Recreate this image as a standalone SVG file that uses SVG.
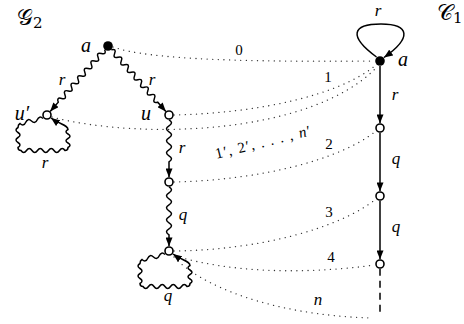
<svg xmlns="http://www.w3.org/2000/svg" width="464" height="324" viewBox="0 0 464 324">
<style>
.e{fill:none;stroke:#000;stroke-width:1.5}
.d{fill:none;stroke:#333;stroke-width:1.3;stroke-dasharray:0.1 5.5;stroke-linecap:round}
.on{fill:#fff;stroke:#000;stroke-width:1.6}
.fn{fill:#000}
.nl{font-family:"Liberation Serif",serif;font-style:italic;font-size:20px;text-anchor:middle}
.el{font-family:"Liberation Serif",serif;font-style:italic;font-size:17px;text-anchor:middle}
.dl{font-family:"Liberation Serif",serif;font-size:15px;text-anchor:middle}
.tt{font-family:"DejaVu Serif","DejaVu Sans",serif;font-size:22px}
</style>
<defs>
<marker id="ar" viewBox="0 0 10 8" refX="10" refY="4" markerWidth="9" markerHeight="7" markerUnits="userSpaceOnUse" orient="auto">
<path d="M0,0 L10,4 L0,8 z" fill="#000"/>
</marker>
<path id="loop" class="e" marker-end="url(#ar)" d="M-4,3.5 q-3.7,-3.3 -5.75,1.25 t-5.75,1.25 t-5.75,1.25 t-5.75,1.25 q-2,1 -2,4 q-4,2.5 0,5 t0,5 t0,5 t0,5 q0,3 3,3 q2.75,4 5.5,0 t5.5,0 t5.5,0 t5.5,0 t5.5,0 t5.5,0 t5.5,0 t5.5,0 q3,0 3,-3 q4,-2.25 0,-4.5 t0,-4.5 t0,-4.5 t0,-4.5 C21,10 13,9.5 4,3"/>
</defs>

<g id="titles">
<text class="tt" x="17" y="25">𝒢<tspan font-size="15" dy="3">2</tspan></text>
<text class="tt" x="437" y="20">𝒞<tspan font-size="15" dy="3">1</tspan></text>
</g>

<g id="connectors">
<!-- dotted correspondences -->
<path class="d" d="M113,47 C150,60 250,62 375,61"/>
<path class="d" d="M174,115 C260,113 340,95 376,65"/>
<path class="d" d="M52,117 C140,140 310,135 376,68"/>
<path class="d" d="M174,182 C260,180 340,160 376,131"/>
<path class="d" d="M174,251 C260,250 340,228 376,199"/>
<path class="d" d="M175,256 C230,272 300,275 375,265"/>
<path class="d" d="M174,257 C200,285 270,315 372,318"/>
<!-- G2 snake edges -->
<path class="e" marker-end="url(#ar)" transform="translate(108,46) rotate(131.5)" d="M5,0 q2.5,-5 5,0 t5,0 t5,0 t5,0 t5,0 t5,0 t5,0 t5,0 t5,0 t5,0 t5,0 t5,0 t5,0 t5,0 L87.3,0"/>
<path class="e" marker-end="url(#ar)" transform="translate(108,46) rotate(48.5)" d="M5,0 q2.5,-5 5,0 t5,0 t5,0 t5,0 t5,0 t5,0 t5,0 t5,0 t5,0 t5,0 t5,0 t5,0 t5,0 t5,0 L87.3,0"/>
<path class="e" marker-end="url(#ar)" transform="translate(169,115) rotate(90)" d="M4.8,0 q3,-5 6,0 t6,0 t6,0 t6,0 t6,0 t6,0 t6,0 L62.2,0"/>
<path class="e" marker-end="url(#ar)" transform="translate(169,182) rotate(90)" d="M4.8,0 q3,-5 6,0 t6,0 t6,0 t6,0 t6,0 t6,0 t6,0 t6,0 L64.2,0"/>
<use href="#loop" transform="translate(47,115)"/>
<use href="#loop" transform="translate(169,251)"/>
<!-- C1 edges -->
<path class="e" marker-end="url(#ar)" d="M376.5,57 C348,36 352,24 381,24 C410,24 412,38 384,57.5"/>
<path class="e" marker-end="url(#ar)" d="M380,66 L380,123.2"/>
<path class="e" marker-end="url(#ar)" d="M380,132.8 L380,191.2"/>
<path class="e" marker-end="url(#ar)" d="M380,200.8 L380,259.2"/>
<path class="e" stroke-dasharray="7 5" d="M380,268.8 L380,312"/>
</g>

<g id="labels">
<text class="el" x="62" y="85">r</text>
<text class="el" x="152" y="85">r</text>
<text class="el" x="182" y="153">r</text>
<text class="el" x="183" y="220">q</text>
<text class="el" x="45" y="168">r</text>
<text class="el" x="168" y="301">q</text>
<text class="el" x="378" y="16">r</text>
<text class="el" x="395" y="100">r</text>
<text class="el" x="396" y="164">q</text>
<text class="el" x="396" y="232">q</text>
<text class="dl" x="239" y="55">0</text>
<text class="dl" x="328" y="82">1</text>
<text class="dl" x="329" y="149">2</text>
<text class="dl" x="329" y="217">3</text>
<text class="dl" x="331" y="262">4</text>
<text class="el" x="318" y="305">n</text>
<text class="dl" font-size="17" transform="translate(264,147) rotate(-14)" textLength="98" lengthAdjust="spacing">1′, 2′, . . . , <tspan font-style="italic">n</tspan>′</text>
</g>

<g id="node-G2-a"><circle class="fn" cx="108" cy="46" r="4.8"/><text class="nl" x="86" y="52">a</text></g>
<g id="node-G2-u1"><circle class="on" cx="47" cy="115" r="4"/><text class="nl" x="22" y="120">u′</text></g>
<g id="node-G2-u"><circle class="on" cx="169" cy="115" r="4"/><text class="nl" x="146" y="120">u</text></g>
<g id="node-G2-3"><circle class="on" cx="169" cy="182" r="4"/></g>
<g id="node-G2-4"><circle class="on" cx="169" cy="251" r="4"/></g>
<g id="node-C1-a"><circle class="fn" cx="380" cy="61" r="4.8"/><text class="nl" x="403" y="66">a</text></g>
<g id="node-C1-2"><circle class="on" cx="380" cy="128" r="4"/></g>
<g id="node-C1-3"><circle class="on" cx="380" cy="196" r="4"/></g>
<g id="node-C1-4"><circle class="on" cx="380" cy="264" r="4"/></g>
</svg>
